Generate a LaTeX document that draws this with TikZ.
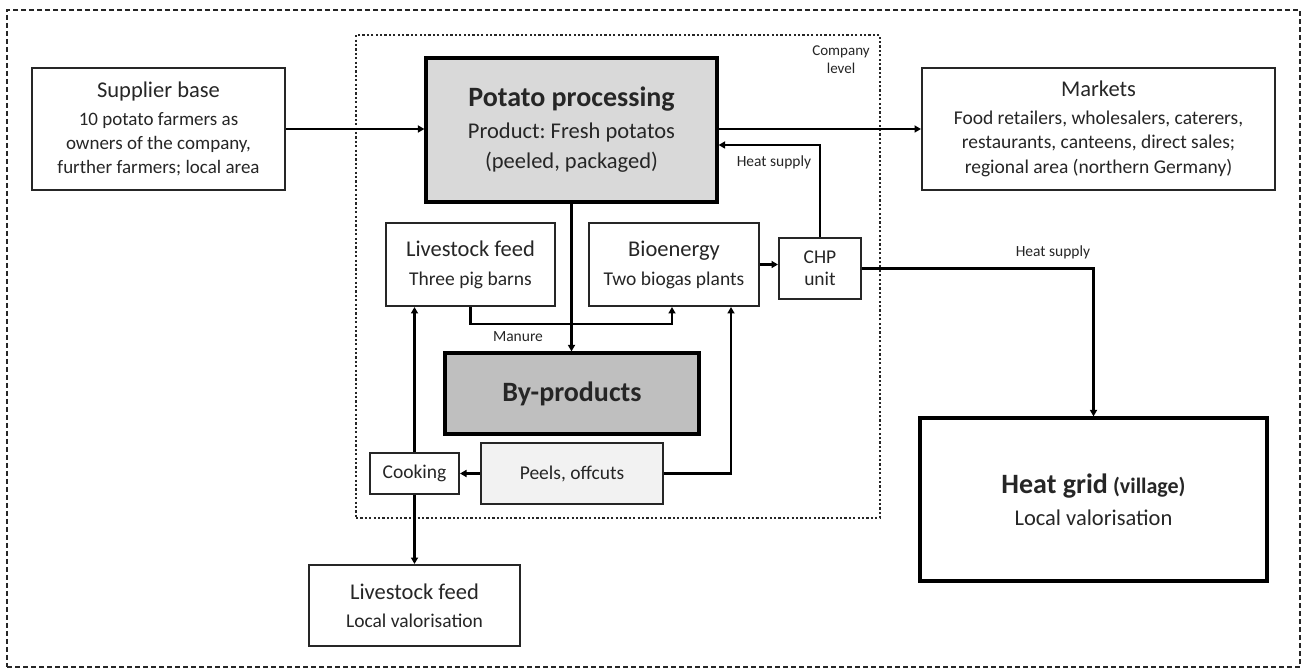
\documentclass[tikz,border=0pt]{standalone}
\usepackage{fontspec}
\setmainfont{Carlito}
\usetikzlibrary{arrows.meta}
\newcommand\fsz[2]{\fontsize{#1}{#2}\selectfont}
\definecolor{ink}{HTML}{262626}
\definecolor{procfill}{HTML}{D9D9D9}
\definecolor{byfill}{HTML}{BFBFBF}
\definecolor{peelfill}{HTML}{F2F2F2}
\frenchspacing
\begin{document}
\begin{tikzpicture}[x=1pt,y=-1pt,
  box/.style={draw=ink, line width=2pt, align=center, inner sep=0pt, text=ink},
  heavy/.style={box, draw=black, line width=3.2pt},
  flow/.style={draw=black, line width=2.6pt, -{Triangle[length=6.5pt,width=7pt]}},
  lbl/.style={text=ink, font=\fsz{15.5}{18}, inner sep=0pt, align=center}]
\useasboundingbox (0,0) rectangle (1302,668);
\fill[white] (0,0) rectangle (1302,668);

% system boundary and company level
\node[draw=ink, line width=1.7pt, dash pattern=on 5pt off 3pt,
      minimum width=1293, minimum height=657, inner sep=0pt] (frame) at (653.5,338.5) {};
\node[draw=ink, line width=2.4pt, dash pattern=on 2.2pt off 2.2pt,
      minimum width=524, minimum height=483, inner sep=0pt] (company) at (618,276.5) {};
\node[lbl, font=\fsz{15}{18}] (colabel) at (841,60) {Company\\level};

% boxes
\node[box, minimum width=253, minimum height=122, font=\fsz{19}{24}] (sup) at (158.5,129)
  {{\fsz{22.5}{27}Supplier base}\\[4pt]10 potato farmers as\\owners of the company,\\further farmers; local area};
\node[heavy, fill=procfill, minimum width=291, minimum height=144, font=\fsz{22.5}{30}] (pot) at (571.5,130)
  {{\fsz{28}{32}\bfseries Potato processing}\\[2pt]Product: Fresh potatos\\(peeled, packaged)};
\node[box, minimum width=353, minimum height=122, font=\fsz{19.5}{24.5}] (mk) at (1098.5,129)
  {{\fsz{22.5}{27}Markets}\\[3pt]Food retailers, wholesalers, caterers,\\restaurants, canteens, direct sales;\\regional area (northern Germany)};
\node[box, minimum width=169, minimum height=83, font=\fsz{19.5}{29}] (lf) at (470.5,264.5)
  {{\fsz{22.5}{27}Livestock feed}\\Three pig barns};
\node[box, minimum width=170, minimum height=83, font=\fsz{19.5}{29}] (bio) at (674,264.5)
  {{\fsz{22.5}{27}Bioenergy}\\Two biogas plants};
\node[box, minimum width=82, minimum height=61, font=\fsz{19.5}{22}] (chp) at (820,268.5)
  {CHP\\unit};
\node[heavy, fill=byfill, minimum width=254, minimum height=81, font=\fsz{28}{32}\bfseries] (byp) at (572,393.5)
  {By-products};
\node[box, fill=peelfill, minimum width=182, minimum height=61, font=\fsz{19.5}{24}] (peel) at (572,473.5)
  {Peels, offcuts};
\node[box, minimum width=89, minimum height=41, font=\fsz{19.5}{24}] (cook) at (414.5,473.5)
  {Cooking};
\node[box, minimum width=211, minimum height=81, font=\fsz{19.5}{28}] (lfl) at (414.5,605.5)
  {{\fsz{22.5}{27}Livestock feed}\\Local valorisation};
\node[heavy, minimum width=347, minimum height=163, font=\fsz{22.5}{32}] (hg) at (1093.5,499.5)
  {{\fsz{28}{32}\bfseries Heat grid} {\fsz{22}{26}\bfseries (village)}\\Local valorisation};

% labels on connectors
\node[lbl] (hs1) at (774,162) {Heat supply};
\node[lbl] (hs2) at (1053,252) {Heat supply};
\node[lbl] (man) at (518,337) {Manure};

% flows
\draw[flow] (sup.east) -- (sup.east -| pot.west);
\draw[flow] (pot.east |- mk.west) -- (mk.west);
\draw[flow] (chp.north) |- ([yshift=-15pt]pot.east);
\draw[flow] (bio.east) -- (bio.east -| chp.west);
\draw[flow] (chp.east) -| (hg.north);
\draw[flow] (pot.south) -- (pot.south |- byp.north);
\draw[flow] (lf.south) -- ++(0,17) -| ([xshift=-2pt]bio.south);
\draw[flow] (peel.east) -| ([xshift=57pt]bio.south);
\draw[flow] (peel.west) -- (cook.east);
\draw[flow] (cook.north) -- (cook.north |- lf.south);
\draw[flow] (cook.south) -- (lfl.north);
\end{tikzpicture}
\end{document}
